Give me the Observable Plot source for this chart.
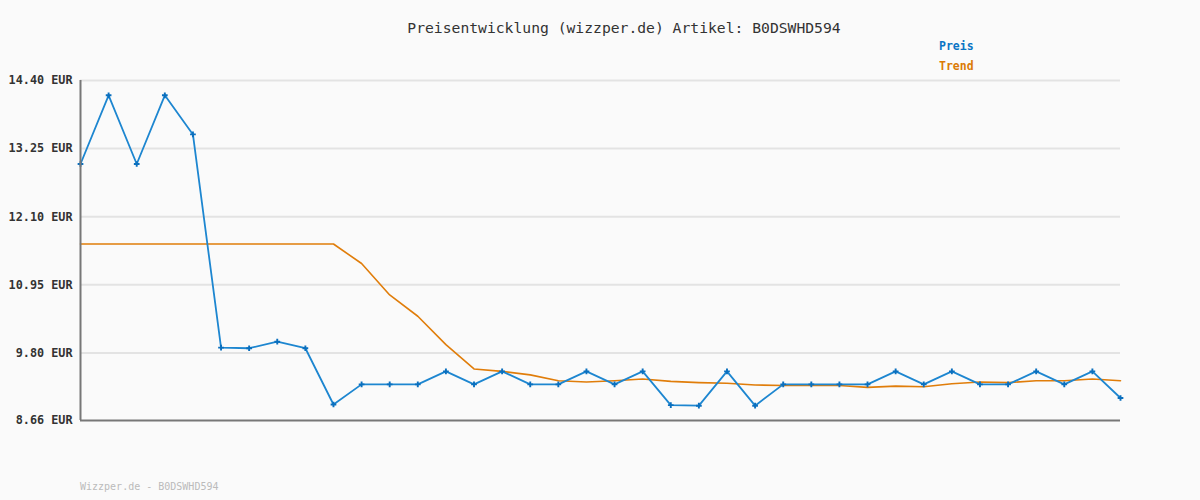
<!DOCTYPE html>
<html>
<head>
<meta charset="utf-8">
<script src="https://cdn.jsdelivr.net/npm/d3@7"></script>
<script src="https://cdn.jsdelivr.net/npm/@observablehq/plot@0.6"></script>
<style>
  html, body { margin: 0; padding: 0; background: #fafafa; }
  #wrap { position: relative; width: 1200px; height: 500px; background: #fafafa; overflow: hidden; }
  #wrap svg { position: absolute; left: 0; top: 0; }
  .t { position: absolute; font-family: "DejaVu Sans Mono", monospace; white-space: nowrap; }
  #title { top: 19px; left: 0; width: 1248px; text-align: center; font-size: 14.7px; color: #333; }
  #lp { top: 39px; left: 939px; font-size: 11.5px; font-weight: bold; color: #0a74c4; }
  #lt { top: 59px; left: 939px; font-size: 11.5px; font-weight: bold; color: #db7a06; }
  #foot { top: 481px; left: 80px; font-size: 10px; color: #bbbbbb; }
</style>
</head>
<body>
<div id="wrap">
  <div class="t" id="title">Preisentwicklung (wizzper.de) Artikel: B0DSWHD594</div>
  <div class="t" id="lp">Preis</div>
  <div class="t" id="lt">Trend</div>
  <div class="t" id="foot">Wizzper.de - B0DSWHD594</div>
</div>
<script>
const preis = [12.99, 14.15, 12.99, 14.15, 13.49, 9.89, 9.88, 9.99, 9.88, 8.93,
  9.27, 9.27, 9.27, 9.49, 9.27, 9.49, 9.27, 9.27, 9.49, 9.27,
  9.49, 8.92, 8.91, 9.49, 8.91, 9.27, 9.27, 9.27, 9.27, 9.49,
  9.27, 9.49, 9.27, 9.27, 9.49, 9.27, 9.49, 9.04];
const trend = [11.64, 11.64, 11.64, 11.64, 11.64, 11.64, 11.64, 11.64, 11.64, 11.64,
  11.31, 10.78, 10.42, 9.94, 9.53, 9.49, 9.43, 9.33, 9.31, 9.33,
  9.36, 9.32, 9.30, 9.29, 9.26, 9.25, 9.25, 9.25, 9.22, 9.24,
  9.23, 9.28, 9.31, 9.30, 9.33, 9.33, 9.36, 9.33];
const yTicks = [8.66, 9.80, 10.95, 12.10, 13.25, 14.40];

const preisData = preis.map((v, i) => ({i, v}));
const trendData = trend.map((v, i) => ({i, v}));
const n = preis.length - 1;

const chart = Plot.plot({
  width: 1200,
  height: 500,
  marginLeft: 80,
  marginRight: 80,
  marginTop: 80,
  marginBottom: 80,
  style: {background: "transparent", fontFamily: "DejaVu Sans Mono, monospace"},
  x: {domain: [0, n], axis: null},
  y: {domain: [8.66, 14.40], axis: null},
  marks: [
    Plot.ruleY(yTicks.slice(1), {x1: 0, x2: n, stroke: "#e3e3e3", strokeWidth: 2}),
    Plot.lineY(trendData, {x: "i", y: "v", stroke: "#e07d0a", strokeWidth: 1.6}),
    Plot.lineY(preisData, {x: "i", y: "v", stroke: "#1d86d0", strokeWidth: 1.8}),
    Plot.dot(preisData, {x: "i", y: "v", symbol: "cross", r: 2.4, fill: "#0a6fbe", stroke: "none"}),
    Plot.ruleX([0], {y1: 8.66, y2: 14.40, stroke: "#777", strokeWidth: 2}),
    Plot.ruleY([8.66], {x1: 0, x2: n, stroke: "#777", strokeWidth: 2}),
    Plot.text(yTicks, {
      x: 0, y: d => d, text: d => d.toFixed(2) + " EUR",
      textAnchor: "end", dx: -8, fontSize: 11.8, fontWeight: "bold", fill: "#333"
    })
  ]
});
document.getElementById("wrap").prepend(chart);
</script>
</body>
</html>
